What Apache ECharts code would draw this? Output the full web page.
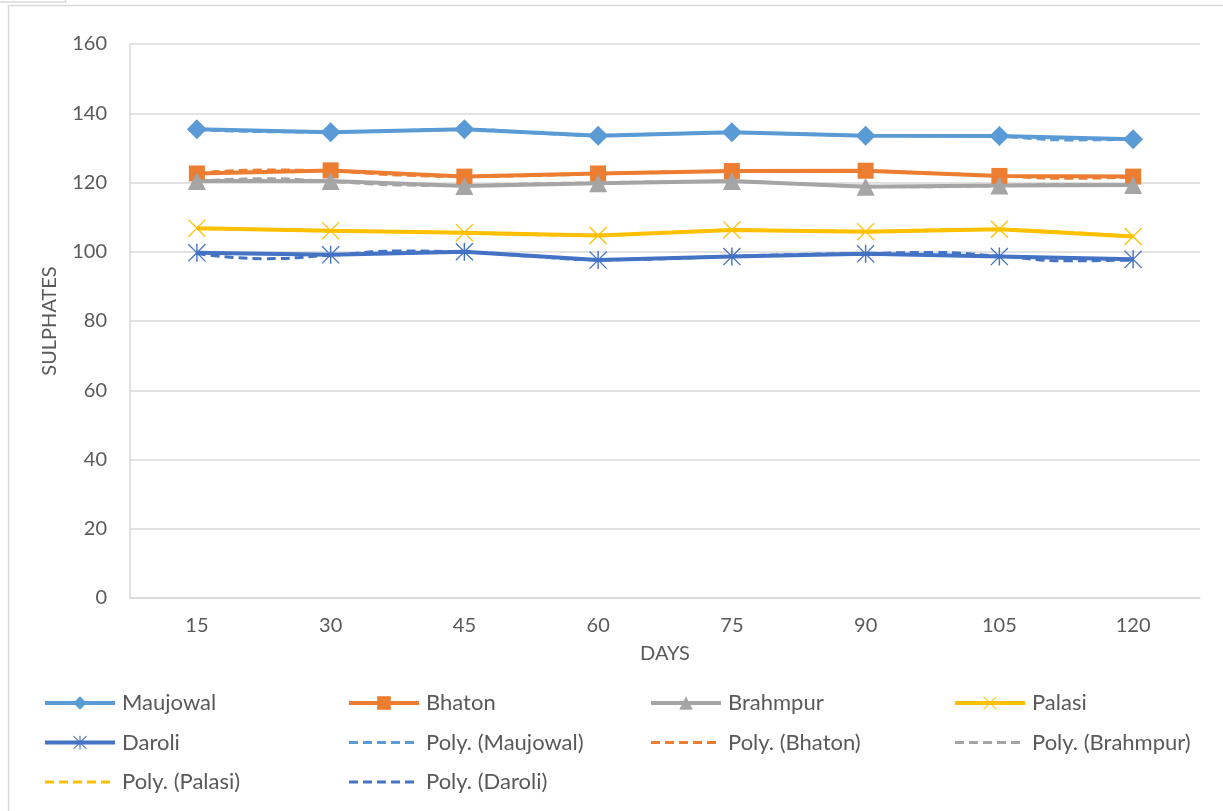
<!DOCTYPE html>
<html>
<head>
<meta charset="utf-8">
<title>Sulphates</title>
<script src="https://cdn.jsdelivr.net/npm/echarts@6/dist/echarts.min.js"></script>
<style>
  html, body { margin: 0; padding: 0; background: #ffffff; }
  #chart { width: 1223px; height: 811px; }
</style>
</head>
<body>
<div id="chart"></div>
<script>
// Sampling days (category axis)
const days = ['15', '30', '45', '60', '75', '90', '105', '120'];

// Sulphate readings per site
const maujowal = [135.4, 134.5, 135.4, 133.5, 134.5, 133.5, 133.4, 132.5];
const bhaton   = [122.6, 123.5, 121.7, 122.6, 123.3, 123.4, 121.9, 121.7];
const brahmpur = [120.4, 120.4, 119.0, 119.8, 120.4, 118.8, 119.1, 119.3];
const palasi   = [106.8, 106.1, 105.5, 104.7, 106.3, 105.8, 106.5, 104.4];
const daroli   = [99.7, 99.1, 100.0, 97.6, 98.6, 99.4, 98.6, 97.8];

// Polynomial trend curves, sampled at every day and half-way between
const trendDays = [15, 22.5, 30, 37.5, 45, 52.5, 60, 67.5, 75, 82.5, 90, 97.5, 105, 112.5, 120];
const trendMaujowal = [135.3, 134.7, 134.6, 135.0, 135.3, 134.4, 133.6, 134.0, 134.4, 134.0, 133.6, 133.6, 133.3, 132.3, 132.5];
const trendBhaton   = [122.7, 123.6, 123.3, 122.2, 121.8, 122.0, 122.5, 123.0, 123.3, 123.4, 123.3, 122.7, 121.9, 121.2, 121.6];
const trendBrahmpur = [120.3, 121.1, 120.3, 119.3, 119.1, 119.6, 119.9, 120.2, 120.3, 119.6, 118.9, 118.8, 119.1, 119.4, 119.3];
const trendPalasi   = [106.7, 106.4, 106.0, 105.8, 105.4, 104.9, 104.8, 105.5, 106.2, 106.1, 105.9, 106.3, 106.4, 105.6, 104.4];
const trendDaroli   = [99.5, 98.0, 99.0, 100.2, 99.9, 98.7, 97.7, 98.0, 98.7, 99.2, 99.5, 99.8, 98.7, 97.4, 97.6];

const yTicks = { min: 0, max: 160, step: 20 };

const C = {
  maujowal: '#5B9BD5',
  bhaton: '#ED7D31',
  brahmpur: '#A5A5A5',
  palasi: '#FFC000',
  daroli: '#4472C4',
  text: '#595959',
  grid: '#D9D9D9'
};
const FONT = 'Lato, "Open Sans", sans-serif';

// Marker outlines: an "x" cross and a six-spoke asterisk
const CROSS = 'path://M1,0 L10,9 L19,0 L20,1 L11,10 L20,19 L19,20 L10,11 L1,20 L0,19 L9,10 L0,1 Z';
const STAR = CROSS + ' M9.2,0 L10.8,0 L10.8,20 L9.2,20 Z';

function site(name, data, color, symbol, size) {
  return {
    name: name,
    type: 'line',
    data: data,
    xAxisIndex: 0,
    z: 3,
    symbol: symbol,
    symbolSize: size,
    showAllSymbol: true,
    lineStyle: { color: color, width: 4 },
    itemStyle: { color: color, borderWidth: 0 },
    emphasis: { disabled: true }
  };
}

function trend(name, data, color) {
  return {
    name: name,
    type: 'line',
    xAxisIndex: 1,
    z: 4,
    data: trendDays.map((d, i) => [d, data[i]]),
    smooth: 0.5,
    symbol: 'none',
    lineStyle: { color: color, width: 3, type: [9, 5] },
    itemStyle: { color: color },
    emphasis: { disabled: true }
  };
}

const series = [
  site('Maujowal', maujowal, C.maujowal, 'diamond', 20),
  site('Bhaton', bhaton, C.bhaton, 'rect', 16),
  site('Brahmpur', brahmpur, C.brahmpur, 'triangle', 18),
  site('Palasi', palasi, C.palasi, CROSS, 18),
  site('Daroli', daroli, C.daroli, STAR, 18),
  trend('Poly. (Maujowal)', trendMaujowal, C.maujowal),
  trend('Poly. (Bhaton)', trendBhaton, C.bhaton),
  trend('Poly. (Brahmpur)', trendBrahmpur, C.brahmpur),
  trend('Poly. (Palasi)', trendPalasi, C.palasi),
  trend('Poly. (Daroli)', trendDaroli, C.daroli)
];

// Legend laid out as four aligned columns
const legendColumns = [
  { left: 43,  names: ['Maujowal', 'Daroli', 'Poly. (Palasi)'] },
  { left: 347, names: ['Bhaton', 'Poly. (Maujowal)', 'Poly. (Daroli)'] },
  { left: 649, names: ['Brahmpur', 'Poly. (Bhaton)'] },
  { left: 953, names: ['Palasi', 'Poly. (Brahmpur)'] }
];

function legendEntry(name) {
  if (name.indexOf('Poly.') === 0) {
    // trend entries show only the dashed stroke
    return { name: name, itemStyle: { opacity: 0 }, lineStyle: { width: 3 } };
  }
  return { name: name, lineStyle: { width: 4 } };
}

const legends = legendColumns.map(col => ({
  orient: 'vertical',
  left: col.left,
  top: 692,
  padding: 0,
  itemWidth: 70,
  itemHeight: 17,
  itemGap: 17.5,
  selectedMode: false,
  data: col.names.map(legendEntry),
  textStyle: { color: C.text, fontSize: 22, fontFamily: FONT, padding: [0, 0, 0, 2] }
}));

const chart = echarts.init(document.getElementById('chart'), null, { renderer: 'canvas' });

chart.setOption({
  backgroundColor: '#ffffff',
  animation: false,
  grid: { left: 130, right: 23, top: 44, bottom: 213, containLabel: false },
  graphic: [
    { type: 'rect', shape: { x: 8.5, y: 5.5, width: 1240, height: 840 }, style: { fill: 'none', stroke: C.grid, lineWidth: 1.5 }, silent: true },
    { type: 'rect', shape: { x: -2, y: -2, width: 67.5, height: 4 }, style: { fill: 'none', stroke: C.grid, lineWidth: 1.5 }, silent: true }
  ],
  xAxis: [
    {
      type: 'category',
      data: days,
      boundaryGap: true,
      name: 'DAYS',
      nameLocation: 'middle',
      nameGap: 46,
      nameTextStyle: { color: C.text, fontSize: 20, fontFamily: FONT },
      axisLine: { show: true, lineStyle: { color: C.grid, width: 1.5 } },
      axisTick: { show: false },
      axisLabel: { color: C.text, fontSize: 20, fontFamily: FONT, margin: 18 },
      splitLine: { show: false }
    },
    {
      type: 'value',
      min: 7.5,
      max: 127.5,
      show: false,
      splitLine: { show: false }
    }
  ],
  yAxis: {
    type: 'value',
    min: yTicks.min,
    max: yTicks.max,
    interval: yTicks.step,
    name: 'SULPHATES',
    nameLocation: 'middle',
    nameRotate: 90,
    nameGap: 70,
    nameTextStyle: { color: C.text, fontSize: 20, fontFamily: FONT },
    axisLine: { show: true, lineStyle: { color: C.grid, width: 1.5 } },
    axisTick: { show: false },
    axisLabel: { color: C.text, fontSize: 20, fontFamily: FONT, margin: 23 },
    splitLine: { show: true, lineStyle: { color: C.grid, width: 1.5 } }
  },
  legend: legends,
  series: series
});
</script>
</body>
</html>
